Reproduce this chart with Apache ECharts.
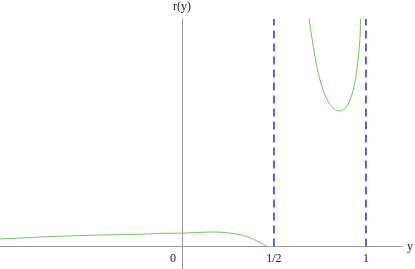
<!DOCTYPE html>
<html>
<head>
<meta charset="utf-8">
<script src="https://cdn.jsdelivr.net/npm/echarts@6/dist/echarts.min.js"></script>
<style>
  html, body { margin: 0; padding: 0; background: #fff; }
  #chart { width: 415px; height: 269px; }
</style>
</head>
<body>
<div id="chart"></div>
<script>
// lower branch of r(y)
const lowY = [-0.989, -0.735, -0.482, -0.228, -0.120, 0, 0.114, 0.179, 0.245, 0.315, 0.353, 0.388, 0.413, 0.442, 0.467, 0.5];
const lowR = [0.033, 0.043, 0.050, 0.054, 0.058, 0.059, 0.063, 0.064, 0.061, 0.052, 0.044, 0.032, 0.022, 0.010, 0, 0];

// upper branch between the asymptotes
const upY = [0.688, 0.692, 0.714, 0.741, 0.777, 0.814, 0.855, 0.895, 0.931, 0.953, 0.967, 0.971, 0.973];
const upR = [1.04, 1.005, 0.886, 0.768, 0.672, 0.620, 0.601, 0.620, 0.694, 0.798, 0.916, 1.005, 1.04];

// dashed asymptotes
const asymptotes = [0.5, 1];
const tickValues = [0, 0.5, 1];
const tickLabels = ['0', '1/2', '1'];

const font = '"Liberation Serif", "DejaVu Serif", serif';
const zip = (a, b) => a.map((v, i) => [v, b[i]]);

const yMin = -0.1, yMax = 1.009;
const gridTop = 19, gridH = 250;
// move the x axis up from the grid bottom to r = 0
const zeroOffset = -(0 - yMin) / (yMax - yMin) * gridH;

const chart = echarts.init(document.getElementById('chart'));

let series = [
  {
    type: 'line',
    data: zip(lowY, lowR),
    smooth: 0.3,
    symbol: 'none',
    lineStyle: { color: '#66cc55', width: 1 },
    z: 3
  },
  {
    type: 'line',
    data: zip(upY, upR),
    smooth: 0.3,
    symbol: 'none',
    clip: true,
    lineStyle: { color: '#66cc55', width: 1 },
    z: 3
  }
];

asymptotes.forEach(a => {
  series.push({
    type: 'line',
    data: [[a, 0], [a, yMax]],
    symbol: 'none',
    lineStyle: { color: '#2a2aff', width: 1.5, type: [8, 5] },
    z: 2
  });
});

const option = {
  backgroundColor: '#fff',
  animation: false,
  grid: { left: 0, right: 13, top: gridTop, height: gridH, outerBoundsMode: 'none', containLabel: false },
  xAxis: {
    type: 'value',
    min: -0.989,
    max: 1.196,
    position: 'bottom',
    offset: zeroOffset,
    name: 'y',
    nameLocation: 'end',
    nameGap: 5,
    nameTextStyle: { fontFamily: font, fontSize: 12, color: '#222', verticalAlign: 'middle' },
    axisLine: { onZero: false, lineStyle: { color: '#999', width: 1 } },
    axisTick: { show: false },
    splitLine: { show: false },
    axisLabel: {
      customValues: tickValues,
      margin: 6,
      fontFamily: font,
      fontSize: 12,
      color: '#222',
      formatter: v => {
        const i = tickValues.indexOf(v);
        if (i < 0) return '';
        return v === 0 ? '{z|0}' : tickLabels[i];
      },
      rich: {
        z: { fontFamily: font, fontSize: 12, color: '#222', padding: [0, 18, 0, 0] }
      }
    }
  },
  yAxis: {
    type: 'value',
    min: yMin,
    max: yMax,
    name: 'r(y)',
    nameLocation: 'end',
    nameGap: 6,
    nameTextStyle: { fontFamily: font, fontSize: 12, color: '#222' },
    axisLine: { onZero: true, lineStyle: { color: '#999', width: 1 } },
    axisTick: { show: false },
    axisLabel: { show: false },
    splitLine: { show: false }
  },
  series: series
};

chart.setOption(option);
</script>
</body>
</html>
